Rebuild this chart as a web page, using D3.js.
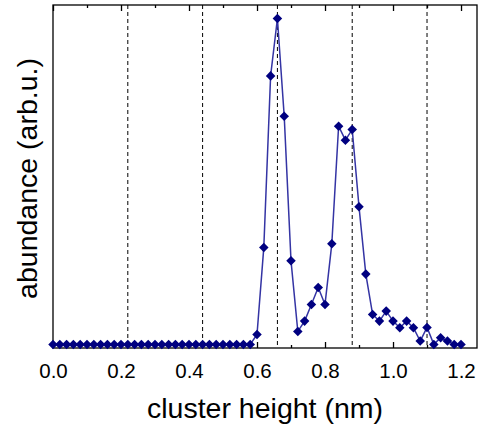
<!DOCTYPE html>
<html>
<head>
<meta charset="utf-8">
<script src="https://cdn.jsdelivr.net/npm/d3@7"></script>
<style>
html,body{margin:0;padding:0;background:#fff;}
svg{display:block;font-family:"Liberation Sans",Arial,sans-serif;}
</style>
</head>
<body>
<svg id="chart" width="478" height="432"></svg>
<script>
// cluster height (nm)
const heights = d3.range(61).map(i => +(i * 0.02).toFixed(2));
// abundance (arb. u.)
const abundance = [
  0,0,0,0,0,0,0,0,0,0,
  0,0,0,0,0,0,0,0,0,0,
  0,0,0,0,0,0,0,0,0,0,
  10,97,268.6,326,228.3,83.6,13,23.3,40,57,
  40,100.6,218.3,204.3,215,137.6,70.3,30,23.3,33.3,
  23.3,16.7,23.3,16.7,3.3,17,0,6.7,3.3,0,
  0
];
const xTicks = [0.0, 0.2, 0.4, 0.6, 0.8, 1.0, 1.2];
const xMinorTicks = [0.1, 0.3, 0.5, 0.7, 0.9, 1.1];
const dashedLines = [0.22, 0.44, 0.66, 0.88, 1.10];

const svg = d3.select("#chart");
const L = 53, R = 477, T = 5, B = 348;
const x = d3.scaleLinear().domain([0, 1.247]).range([L, R]);
const y = d3.scaleLinear().domain([-3.6, 339.5]).range([B, T]);

// dashed verticals
svg.append("g").selectAll("line").data(dashedLines).join("line")
  .attr("x1", d => x(d)).attr("x2", d => x(d))
  .attr("y1", T).attr("y2", B)
  .attr("stroke", "#000").attr("stroke-width", 1)
  .attr("stroke-dasharray", "4,3");

// bottom axis
const bAxis = svg.append("g").attr("transform", `translate(0,${B})`)
  .call(d3.axisBottom(x).tickValues(xTicks).tickFormat(d3.format(".1f")).tickSizeInner(-6).tickSizeOuter(0).tickPadding(15.8));
bAxis.select(".domain").remove();
bAxis.selectAll("text").attr("font-size", "20.5px").attr("font-family", "Liberation Sans, Arial, sans-serif").attr("fill", "#000");
bAxis.selectAll("line").attr("stroke-width", 1.3);
svg.append("g").attr("transform", `translate(0,${B})`)
  .call(d3.axisBottom(x).tickValues(xMinorTicks).tickFormat("").tickSizeInner(-3).tickSizeOuter(0))
  .call(g => g.select(".domain").remove())
  .selectAll("line").attr("stroke-width", 1.3);

// top axis
svg.append("g").attr("transform", `translate(0,${T})`)
  .call(d3.axisTop(x).tickValues(xTicks).tickFormat("").tickSizeInner(-6).tickSizeOuter(0))
  .call(g => g.select(".domain").remove())
  .selectAll("line").attr("stroke-width", 1.3);
svg.append("g").attr("transform", `translate(0,${T})`)
  .call(d3.axisTop(x).tickValues(xMinorTicks).tickFormat("").tickSizeInner(-3).tickSizeOuter(0))
  .call(g => g.select(".domain").remove())
  .selectAll("line").attr("stroke-width", 1.3);

// frame
svg.append("rect").attr("x", L).attr("y", T).attr("width", R - L).attr("height", B - T)
  .attr("fill", "none").attr("stroke", "#000").attr("stroke-width", 1.3);

// line
const line = d3.line().x((d, i) => x(heights[i])).y(d => y(d));
svg.append("path").datum(abundance).attr("d", line)
  .attr("fill", "none").attr("stroke", "#3434a4").attr("stroke-width", 1.5);

// diamonds
const sym = d3.symbol().type(d3.symbolDiamond2).size(58);
svg.append("g").selectAll("path").data(abundance).join("path")
  .attr("transform", (d, i) => `translate(${x(heights[i])},${y(d)})`)
  .attr("d", sym)
  .attr("fill", "#000080");

// labels
svg.append("text").attr("x", (L + R) / 2).attr("y", 418)
  .attr("text-anchor", "middle").attr("font-size", "28.5px").text("cluster height (nm)");
svg.append("text").attr("transform", `translate(37,${(T + B) / 2 + 2}) rotate(-90)`)
  .attr("text-anchor", "middle").attr("font-size", "28.5px").text("abundance (arb.u.)");
</script>
</body>
</html>
